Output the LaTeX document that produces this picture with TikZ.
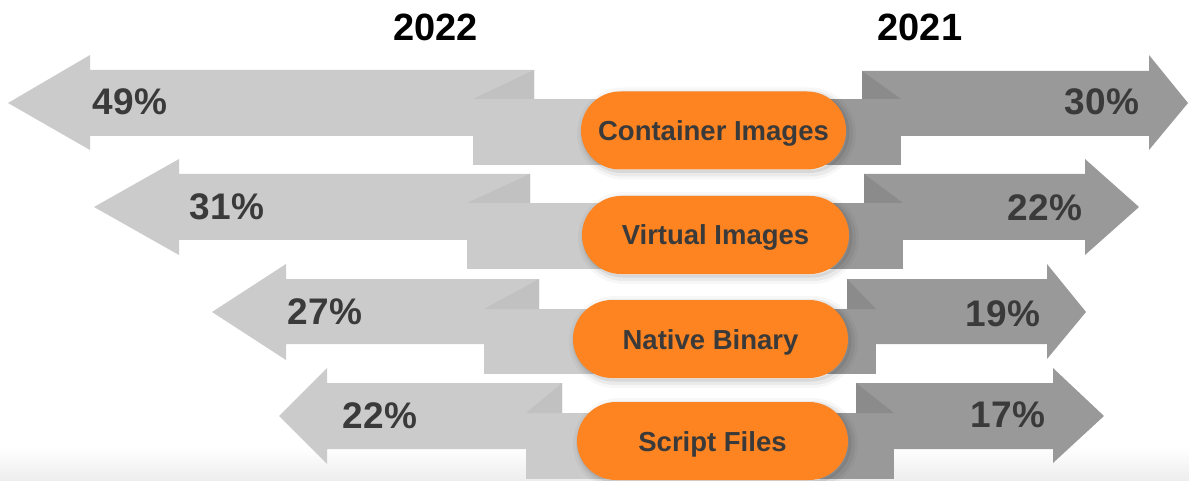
\documentclass[tikz,border=0pt]{standalone}
\usepackage{fontspec}
\setmainfont{Liberation Sans}
\usepackage{tikz}
\usetikzlibrary{shadows}
\definecolor{ribbonlight}{HTML}{CBCBCB}
\definecolor{foldlight}{HTML}{C1C1C1}
\definecolor{ribbondark}{HTML}{999999}
\definecolor{folddark}{HTML}{8B8B8B}
\definecolor{pillorange}{HTML}{FD8421}
\definecolor{labelink}{HTML}{3A3A3A}
\definecolor{floorgray}{HTML}{EDEDED}

\begin{document}
\begin{tikzpicture}[
  x=1pt, y=-1pt,
  older/.style={fill=ribbonlight},
  olderfold/.style={fill=foldlight},
  newer/.style={fill=ribbondark},
  newerfold/.style={fill=folddark},
  pill/.style={fill=pillorange, rounded corners=39pt, minimum width=268pt,
    minimum height=78pt, inner sep=0pt, text=labelink,
    text height=20pt, text depth=0pt,
    font=\fontsize{27.5}{30}\selectfont\bfseries,
    general shadow={shadow xshift=3pt, shadow yshift=-3pt, draw=black,
      line width=14pt, opacity=0.03},
    general shadow={shadow xshift=3pt, shadow yshift=-3pt, draw=black,
      line width=8pt, opacity=0.05},
    general shadow={shadow xshift=2pt, shadow yshift=-2pt, draw=black,
      line width=3pt, opacity=0.08}},
  share/.style={text=labelink, inner sep=0pt, text height=27pt, text depth=0pt,
    font=\fontsize{37}{40}\selectfont\bfseries},
  year/.style={text=black, inner sep=0pt, text height=27pt, text depth=0pt,
    font=\fontsize{38}{40}\selectfont\bfseries}
]
  \useasboundingbox (0,0) rectangle (1189,481);
  \fill[top color=white, bottom color=floorgray, draw=none] (0,447) rectangle (1189,481);

  % container images
  \fill[older] (473,99) rectangle (714,165);
  \fill[older] (8,103) -- (90,55) -- (90,70) -- (534,70) -- (534,136) -- (90,136) -- (90,150) -- cycle;
  \fill[olderfold] (473,99) -- (534,70) -- (534,99) -- cycle;
  \fill[newer] (714,99) rectangle (901,165);
  \fill[newer] (862,71) -- (1149,71) -- (1149,55) -- (1188,103) -- (1149,150) -- (1149,136) -- (862,136) -- cycle;
  \fill[newerfold] (862,71) -- (862,99) -- (901,99) -- cycle;

  % virtual images
  \fill[older] (467,203) rectangle (715,269);
  \fill[older] (94,207) -- (179,159) -- (179,174) -- (530,174) -- (530,240) -- (179,240) -- (179,255) -- cycle;
  \fill[olderfold] (467,203) -- (530,174) -- (530,203) -- cycle;
  \fill[newer] (715,203) rectangle (903,269);
  \fill[newer] (864,174) -- (1085,174) -- (1085,159) -- (1139,207) -- (1085,255) -- (1085,240) -- (864,240) -- cycle;
  \fill[newerfold] (864,174) -- (864,203) -- (903,203) -- cycle;

  % native binary
  \fill[older] (484,309) rectangle (710,374);
  \fill[older] (212,312) -- (286,264) -- (286,279) -- (539,279) -- (539,344) -- (286,344) -- (286,360) -- cycle;
  \fill[olderfold] (484,309) -- (539,279) -- (539,309) -- cycle;
  \fill[newer] (710,309) rectangle (876,374);
  \fill[newer] (847,279) -- (1047,279) -- (1047,264) -- (1086,312) -- (1047,359) -- (1047,344) -- (847,344) -- cycle;
  \fill[newerfold] (847,279) -- (847,309) -- (876,309) -- cycle;

  % script files
  \fill[older] (526,413) rectangle (712,479);
  \fill[older] (279,416) -- (327,368) -- (327,383) -- (562,383) -- (562,449) -- (327,449) -- (327,464) -- cycle;
  \fill[olderfold] (526,413) -- (562,383) -- (562,413) -- cycle;
  \fill[newer] (712,413) rectangle (894,479);
  \fill[newer] (856,383) -- (1053,383) -- (1053,368) -- (1104,416) -- (1053,463) -- (1053,449) -- (856,449) -- cycle;
  \fill[newerfold] (856,383) -- (856,413) -- (894,413) -- cycle;

  \node[year] (y22) at (435.5,27.5) {2022};
  \node[year] (y21) at (920,27.5) {2021};

  \node[pill, minimum width=265pt] (container) at (713.5,130.5) {Container Images};
  \node[pill, minimum width=267pt] (virtual) at (715.5,235) {Virtual Images};
  \node[pill, minimum width=275pt] (native) at (710.5,339) {Native Binary};
  \node[pill, minimum width=271pt] (script) at (712.5,441) {Script Files};

  \node[share] (c22) at (130,101) {49\%};
  \node[share] (c21) at (1102,101) {30\%};
  \node[share] (v22) at (227,206) {31\%};
  \node[share] (v21) at (1045,207) {22\%};
  \node[share] (n22) at (325,311) {27\%};
  \node[share] (n21) at (1003,313) {19\%};
  \node[share] (s22) at (380,415) {22\%};
  \node[share] (s21) at (1008,414) {17\%};
\end{tikzpicture}
\end{document}
